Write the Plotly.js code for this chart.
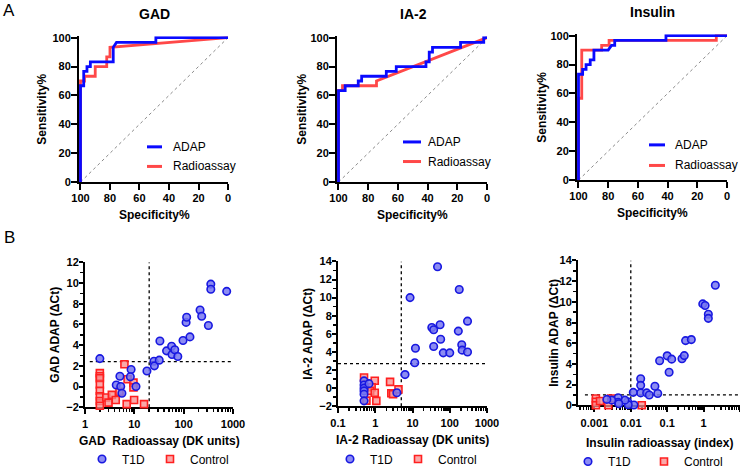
<!DOCTYPE html>
<html><head><meta charset="utf-8">
<script src="https://cdn.plot.ly/plotly-3.0.1.min.js"></script>
<style>html,body{margin:0;padding:0;background:#fff}#chart{width:740px;height:476px}</style>
</head><body><div id="chart"></div>
<script>
// ---------- ROC curves (Specificity %, Sensitivity %) ----------
const gadAdapSpec = [100,100,97.8,97.8,95.6,95.6,93.3,93.3,77.8,77.8,75.6,48.9,48.9,0];
const gadAdapSens = [0,66.7,66.7,76.7,76.7,80,80,83.3,83.3,93.3,96.7,96.7,100,100];
const gadRadioSpec = [100,100,97.3,97.3,90,90,82.2,82.2,80,80,0];
const gadRadioSens = [0,70,70,73.3,73.3,80,80,86.7,86.7,93.3,100];

const ia2AdapSpec = [100,100,95.5,95.5,86.7,86.7,84.4,84.4,67.8,67.8,61.1,61.1,41.1,41.1,38.9,38.9,36.7,36.7,17.8,17.8,2.2,2.2,0];
const ia2AdapSens = [0,63.3,63.3,66.7,66.7,70,70,73.3,73.3,76.7,76.7,80,80,83.3,83.3,90,90,93.3,93.3,96.7,96.7,100,100];
const ia2RadioSpec = [100,100,97.3,97.3,74.4,74.4,0];
const ia2RadioSens = [0,63.3,63.3,66.7,66.7,70,100];

const insAdapSpec = [100,100,97.2,97.2,94.9,94.9,92.1,92.1,89.6,89.6,80,77.8,75.6,75.6,41.1,41.1,0];
const insAdapSens = [0,73.3,73.3,76.7,76.7,80,80,83.3,83.3,90,90,93.3,93.3,96.7,96.7,100,100];
const insRadioSpec = [100,100,97.8,97.8,84.4,84.4,79.4,79.4,7.2,7.2,0];
const insRadioSens = [0,56.7,56.7,90,90,93.3,93.3,96.7,96.7,100,100];

const chanceSpec = [100,0];
const chanceSens = [0,100];

// ---------- Scatter: radioassay vs ADAP (ΔCt) ----------
const gadT1dX = [2,5.1,4.3,5.3,5.6,8.6,8.3,10.8,18,25,25.5,32,33,45,57,58,66,76,97,134,112,115,215,232,317,355,355,745];
const gadT1dY = [2.7,1.0,0.15,0.0,-0.65,1.65,0.95,0.0,1.5,2.45,2.0,2.55,4.4,3.45,3.9,3.1,3.55,2.9,4.45,4.8,6.2,6.7,7.4,6.8,5.9,9.9,9.4,9.2];
const gadCtrlX = [2,2,2,2,2,2,2,2,2.7,3.0,3.5,4.2,5.0,6.3,7.0,7.3,9.6,9.6,9.9,15.7];
const gadCtrlY = [1.3,1.0,0.8,0.2,-0.4,-0.95,-1.4,-1.85,-1.05,-1.55,-0.8,-1.3,-0.5,2.15,-1.7,0.7,0.38,-0.08,-1.3,-1.7];
const gadCutX = 20, gadCutY = 2.4;

const ia2T1dX = [47,180,8.6,33,37,55,170,300,57,37,67,100,210,215,300,12,11.5,6.3,3.8,0.5,0.5,0.5,0.5,0.5,0.5,0.68];
const ia2T1dY = [13.4,10.9,10.0,6.7,6.45,7.0,6.3,7.4,5.4,4.6,3.9,3.9,4.8,4.2,4.0,4.4,2.8,1.5,-0.5,0.8,0.35,0.0,-0.3,-0.67,-1.4,0.5];
const ia2CtrlX = [0.5,0.97,0.8,0.73,0.97,1.07,0.58,2.5,2.7,3.0,4.2];
const ia2CtrlY = [1.17,0.82,0.1,-0.3,-0.5,-1.4,-1.38,0.7,-0.56,-0.67,-0.13];
const ia2CutX = 5, ia2CutY = 2.7;

const insT1dX = [2.1,0.95,1.1,1.35,1.35,0.32,0.46,0.1,0.133,0.062,0.255,0.295,0.113,0.0187,0.0187,0.0187,0.046,0.0273,0.0322,0.055,0.0117,0.0122,0.0082,0.0085,0.0069,0.0045,0.0045,0.0047,0.003,0.0022];
const insT1dY = [11.6,9.8,9.65,8.8,8.4,6.25,6.35,4.78,4.46,4.3,4.5,4.8,3.2,2.56,1.93,1.2,1.84,1.2,1.0,1.14,1.25,0.03,0.35,0.05,0.5,0.73,0.3,0.15,0.5,0.57];
const insCtrlX = [0.0011,0.0011,0.0011,0.00143,0.0024,0.0029,0.02];
const insCtrlY = [0.66,0.35,0.0,0.42,0.0,0.66,0.0];
const insCutX = 0.01, insCutY = 1.0;

const rocTitles = ['GAD','IA-2','Insulin'];
const rocXTitle = 'Specificity%';
const rocYTitle = 'Sensitivity%';
const scXTitles = ['GAD\u00a0 Radioassay (DK units)','IA-2 Radioassay (DK units)','Insulin radioassay (index)'];
const scYTitles = ['GAD ADAP (\u0394Ct)','IA-2 ADAP (\u0394Ct)','Insulin ADAP (\u0394Ct)'];
const seriesNames = ['ADAP','Radioassay','T1D','Control'];

// ---------- layout helpers ----------
const W = 740, H = 476;
const FONT = 'Liberation Sans, Arial, sans-serif';
const BLUE = '#0a0aff', RED = '#ff4848';
const dx = (a,b) => [a/W, b/W];
const dy = (top,bottom) => [1-bottom/H, 1-top/H];

function axis(extra){
  return Object.assign({
    showline:true, linecolor:'#000', linewidth:2, ticks:'outside', ticklen:5, tickwidth:2,
    tickcolor:'#000', showgrid:false, zeroline:false, layer:'below traces', fixedrange:true,
    tickfont:{family:FONT, size:11, color:'#000', weight:'bold'}
  }, extra);
}
function minorVals(e0, e1){
  const v=[]; for(let e=e0;e<e1;e++){ for(let k=2;k<=9;k++){ v.push(k*Math.pow(10,e)); } } return v;
}
function ann(text, x, y, size, bold, angle, xanchor){
  return {text:text, xref:'paper', yref:'paper', x:x/W, y:1-y/H, xanchor:xanchor||'center', yanchor:'middle',
    showarrow:false, textangle:angle||0, font:{family:FONT, size:size, color:'#000', weight: bold?'bold':'normal'}};
}
function keyLine(x0, x1, y, color){
  return {type:'line', xref:'paper', yref:'paper', x0:x0/W, x1:x1/W, y0:1-y/H, y1:1-y/H, line:{color:color, width:3}};
}

const traces = [];
function roc(i, adapX, adapY, radX, radY){
  const xa = 'x'+(i===1?'':i), ya = 'y'+(i===1?'':i);
  traces.push({x:chanceSpec, y:chanceSens, xaxis:xa, yaxis:ya, mode:'lines', showlegend:false,
    line:{color:'#8a8a8a', width:1, dash:'dot'}, hoverinfo:'skip'});
  traces.push({x:radX, y:radY, xaxis:xa, yaxis:ya, mode:'lines', name:seriesNames[1], showlegend:false,
    line:{color:RED, width:2.8}});
  traces.push({x:adapX, y:adapY, xaxis:xa, yaxis:ya, mode:'lines', name:seriesNames[0], showlegend:false,
    line:{color:BLUE, width:2.8}});
}
function scat(i, t1x, t1y, cx, cy, cutX, cutY, xr, yr, hx0, legT, legC){
  const xa = 'x'+i, ya = 'y'+i;
  const dot = {color:'#000', width:1.3, dash:'dot'};
  traces.push({x:[cutX,cutX], y:yr, xaxis:xa, yaxis:ya, mode:'lines', showlegend:false, line:dot, hoverinfo:'skip'});
  traces.push({x:[hx0, xr], y:[cutY,cutY], xaxis:xa, yaxis:ya, mode:'lines', showlegend:false, line:dot, hoverinfo:'skip'});
  traces.push({x:cx, y:cy, xaxis:xa, yaxis:ya, mode:'markers', name:seriesNames[3], legend:legC, legendrank:2, cliponaxis:false,
    marker:{symbol:'square', size:7, color:'rgba(248,140,140,0.75)', line:{color:'#ff2020', width:1.6}}});
  traces.push({x:t1x, y:t1y, xaxis:xa, yaxis:ya, mode:'markers', name:seriesNames[2], legend:legT, legendrank:1, cliponaxis:false,
    marker:{symbol:'circle', size:7.5, color:'rgba(120,120,240,0.85)', line:{color:'#1818e0', width:1.6}}});
}

roc(1, gadAdapSpec, gadAdapSens, gadRadioSpec, gadRadioSens);
roc(2, ia2AdapSpec, ia2AdapSens, ia2RadioSpec, ia2RadioSens);
roc(3, insAdapSpec, insAdapSens, insRadioSpec, insRadioSens);
scat(4, gadT1dX, gadT1dY, gadCtrlX, gadCtrlY, gadCutX, gadCutY, 1000, [-2,12], 1.25, 'legend', 'legend');
scat(5, ia2T1dX, ia2T1dY, ia2CtrlX, ia2CtrlY, ia2CutX, ia2CutY, 1000, [-2,14], 0.1, 'legend2', 'legend2');
scat(6, insT1dX, insT1dY, insCtrlX, insCtrlY, insCutX, insCutY, 10, [0,14], 0.00055, 'legend3', 'legend4');

const rocX = {range:[101,0], tickvals:[100,80,60,40,20,0], ticklen:6, ticklabelstandoff:-1};
const rocY = {range:[0,101], tickvals:[0,20,40,60,80,100], ticklen:6, ticklabelstandoff:-2};
const minorStyle = {ticks:'outside', ticklen:3, tickwidth:1.5, tickcolor:'#000'};
const scX = {ticklen:5, ticklabelstandoff:1};
const scY = {ticklen:4, ticklabelstandoff:-2};

function hLegend(x, y){ return {x:x/W, y:1-y/H, xanchor:'left', yanchor:'top', orientation:'h', bgcolor:'rgba(0,0,0,0)',
  font:{family:FONT, size:12, color:'#000'}}; }

const layout = {
  width:W, height:H, margin:{l:0,r:0,t:0,b:0}, paper_bgcolor:'#fff', plot_bgcolor:'rgba(0,0,0,0)',
  showlegend:true,
  xaxis: axis(Object.assign({domain:dx(79,228), anchor:'y'}, rocX)),
  yaxis: axis(Object.assign({domain:dy(37,186), anchor:'x'}, rocY)),
  xaxis2: axis(Object.assign({domain:dx(337,487), anchor:'y2'}, rocX)),
  yaxis2: axis(Object.assign({domain:dy(37,186), anchor:'x2'}, rocY)),
  xaxis3: axis(Object.assign({domain:dx(577,727), anchor:'y3'}, rocX)),
  yaxis3: axis(Object.assign({domain:dy(35,184), anchor:'x3'}, rocY)),
  xaxis4: axis(Object.assign({domain:dx(85,233), anchor:'y4', type:'log', range:[0,3], tickvals:[1,10,100,1000], ticktext:['1','10','100','1000'],
    minor:Object.assign({tickvals:minorVals(0,3)}, minorStyle)}, scX)),
  yaxis4: axis(Object.assign({domain:dy(268,416), anchor:'x4', range:[-2,12], tickvals:[-2,0,2,4,6,8,10,12],
    minor:Object.assign({tickvals:[-1,1,3,5,7,9,11]}, minorStyle)}, scY)),
  xaxis5: axis(Object.assign({domain:dx(338,487), anchor:'y5', type:'log', range:[-1,3], tickvals:[0.1,1,10,100,1000], ticktext:['0.1','1','10','100','1000'],
    minor:Object.assign({tickvals:minorVals(-1,3)}, minorStyle)}, scX)),
  yaxis5: axis(Object.assign({domain:dy(267,415), anchor:'x5', range:[-2,14], tickvals:[-2,0,2,4,6,8,10,12,14],
    minor:Object.assign({tickvals:[-1,1,3,5,7,9,11,13]}, minorStyle)}, scY)),
  xaxis6: axis(Object.assign({domain:dx(578,740), anchor:'y6', type:'log', range:[-3.45,1], tickvals:[0.001,0.01,0.1,1,10], ticktext:['0.001','0.01','0.1','1','10'],
    minor:Object.assign({tickvals:minorVals(-4,1).filter(v=>v>0.00036)}, minorStyle)}, scX)),
  yaxis6: axis(Object.assign({domain:dy(266,414), anchor:'x6', range:[0,14], tickvals:[0,2,4,6,8,10,12,14],
    minor:Object.assign({tickvals:[1,3,5,7,9,11,13]}, minorStyle)}, scY)),
  legend: hLegend(82,454),
  legend2: hLegend(330,454),
  legend3: hLegend(568,457),
  legend4: hLegend(644,457),
  shapes: [
    keyLine(147,162,150,BLUE), keyLine(147,162,170,RED),
    keyLine(403,421,145,BLUE), keyLine(403,421,165,RED),
    keyLine(649,665,148,BLUE), keyLine(649,665,169,RED)
  ],
  annotations: [
    ann('A', 9, 11, 17, false), ann('B', 9, 243, 17, false),
    ann(rocTitles[0], 154, 14, 14, true), ann(rocTitles[1], 413, 14, 14, true), ann(rocTitles[2], 652.5, 12, 14, true),
    ann(rocXTitle, 154, 220, 12, true), ann(rocXTitle, 412.5, 220, 12, true), ann(rocXTitle, 652.5, 218, 12, true),
    ann(rocYTitle, 42, 112, 12, true, -90), ann(rocYTitle, 302, 112, 12, true, -90), ann(rocYTitle, 542, 110, 12, true, -90),
    ann(scXTitles[0], 159, 450, 12, true), ann(scXTitles[1], 412.5, 449, 12, true), ann(scXTitles[2], 659, 452, 12, true),
    ann(scYTitles[0], 55, 342, 12, true, -90), ann(scYTitles[1], 308, 341, 12, true, -90), ann(scYTitles[2], 554, 340, 12, true, -90),
    ann(seriesNames[0], 171, 150, 12, false, 0, 'left'), ann(seriesNames[1], 171, 170, 12, false, 0, 'left'),
    ann(seriesNames[0], 426, 145, 12, false, 0, 'left'), ann(seriesNames[1], 426, 165, 12, false, 0, 'left'),
    ann(seriesNames[0], 673, 148, 12, false, 0, 'left'), ann(seriesNames[1], 673, 169, 12, false, 0, 'left')
  ]
};

Plotly.newPlot('chart', traces, layout, {displayModeBar:false, staticPlot:true});
</script></body></html>
